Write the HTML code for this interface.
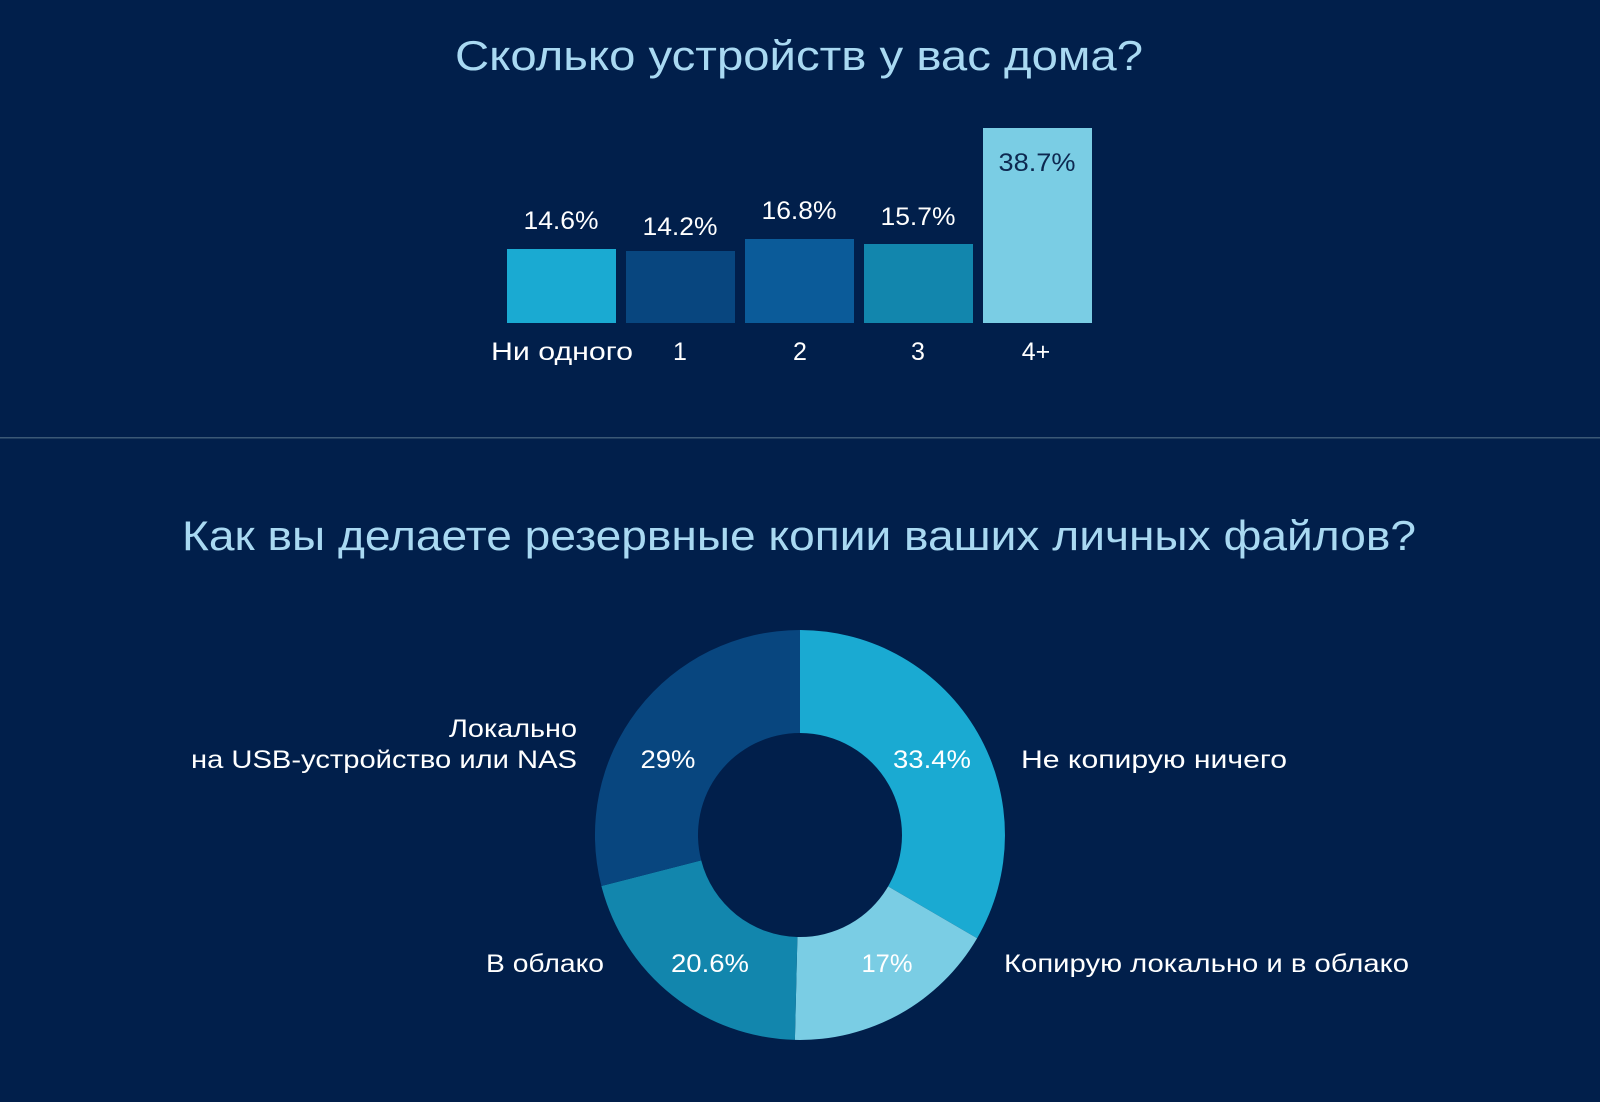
<!DOCTYPE html>
<html><head><meta charset="utf-8"><style>
html,body{margin:0;padding:0;background:#011f4b;}
svg{display:block;font-family:"Liberation Sans","DejaVu Sans",sans-serif;}
</style></head><body>
<svg width="1600" height="1102" viewBox="0 0 1600 1102" xmlns="http://www.w3.org/2000/svg">
<rect width="1600" height="1102" fill="#011f4b"/>
<text x="799" y="70" text-anchor="middle" font-size="42" fill="#a9d9f2" textLength="688" lengthAdjust="spacingAndGlyphs">Сколько устройств у вас дома?</text>
<g>
<rect x="507" y="249" width="109" height="74" fill="#1aaad2"/>
<rect x="626" y="251" width="109" height="72" fill="#08467f"/>
<rect x="745" y="239" width="109" height="84" fill="#0b5b99"/>
<rect x="864" y="244" width="109" height="79" fill="#1286ad"/>
<rect x="983" y="128" width="109" height="195" fill="#7acde4"/>
</g>
<g font-size="25" fill="#ffffff" text-anchor="middle" lengthAdjust="spacingAndGlyphs">
<text x="561" y="229" textLength="75" lengthAdjust="spacingAndGlyphs">14.6%</text>
<text x="680" y="235" textLength="75" lengthAdjust="spacingAndGlyphs">14.2%</text>
<text x="799" y="219" textLength="75" lengthAdjust="spacingAndGlyphs">16.8%</text>
<text x="918" y="225" textLength="75" lengthAdjust="spacingAndGlyphs">15.7%</text>
<text x="1037" y="171" fill="#0d2850" textLength="77" lengthAdjust="spacingAndGlyphs">38.7%</text>
<text x="562" y="360" textLength="142" lengthAdjust="spacingAndGlyphs">Ни одного</text>
<text x="680" y="360">1</text>
<text x="800" y="360">2</text>
<text x="918" y="360">3</text>
<text x="1036" y="360">4+</text>
</g>
<rect x="0" y="437" width="1600" height="1.5" fill="#3b5876"/>
<text x="799" y="550" text-anchor="middle" font-size="42" fill="#a9d9f2" textLength="1234" lengthAdjust="spacingAndGlyphs">Как вы делаете резервные копии ваших личных файлов?</text>
<path d="M800 630 A205 205 0 0 1 977.1 938.2 L888.1 886.4 A102 102 0 0 0 800 733 Z" fill="#1aaad2"/>
<path d="M977.1 938.2 A205 205 0 0 1 794.9 1039.9 L797.4 937 A102 102 0 0 0 888.1 886.4 Z" fill="#7acde4"/>
<path d="M794.9 1039.9 A205 205 0 0 1 601.4 886 L701.2 860.4 A102 102 0 0 0 797.4 937 Z" fill="#1286ad"/>
<path d="M601.4 886 A205 205 0 0 1 800 630 L800 733 A102 102 0 0 0 701.2 860.4 Z" fill="#08467f"/>
<g font-size="25" fill="#ffffff">
<text x="668" y="768" text-anchor="middle" textLength="55" lengthAdjust="spacingAndGlyphs">29%</text>
<text x="932" y="768" text-anchor="middle" textLength="78" lengthAdjust="spacingAndGlyphs">33.4%</text>
<text x="710" y="972" text-anchor="middle" textLength="78" lengthAdjust="spacingAndGlyphs">20.6%</text>
<text x="887" y="972" text-anchor="middle" textLength="51" lengthAdjust="spacingAndGlyphs">17%</text>
<text x="449" y="737" textLength="128" lengthAdjust="spacingAndGlyphs">Локально</text>
<text x="191" y="768" textLength="386" lengthAdjust="spacingAndGlyphs">на USB-устройство или NAS</text>
<text x="1021" y="768" textLength="266" lengthAdjust="spacingAndGlyphs">Не копирую ничего</text>
<text x="486" y="972" textLength="118" lengthAdjust="spacingAndGlyphs">В облако</text>
<text x="1004" y="972" textLength="405" lengthAdjust="spacingAndGlyphs">Копирую локально и в облако</text>
</g>
</svg>
</body></html>
